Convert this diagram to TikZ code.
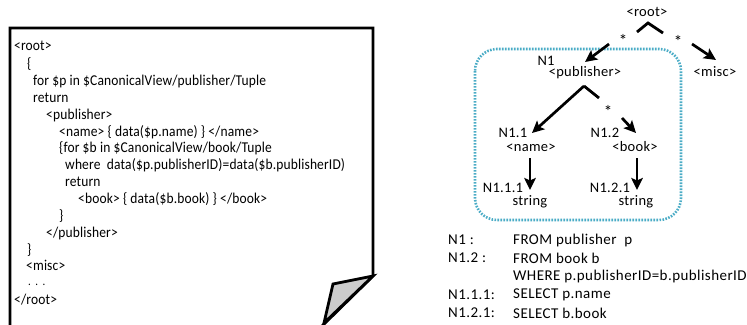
\documentclass[tikz,border=0pt]{standalone}
\usepackage{fontspec}
\setmainfont{Carlito}
\newfontfamily\codefont{Carlito}[FakeStretch=0.9,LetterSpace=1]
\newfontfamily\treefont{Carlito}[LetterSpace=2]
\newfontfamily\rulefont{Carlito}[LetterSpace=3]
\usetikzlibrary{arrows.meta}
\definecolor{aqua}{HTML}{4BACC6}
\begin{document}
\begin{tikzpicture}[x=1pt,y=-1pt,
  code/.style={anchor=west,inner sep=0pt,text height=10pt,text depth=3pt,
    font=\codefont\fontsize{15}{17}\selectfont},
  tree/.style={inner sep=0pt,font=\treefont\fontsize{14.5}{17}\selectfont},
  star/.style={inner sep=0pt,font=\treefont\fontsize{17}{17}\selectfont},
  rule/.style={anchor=west,inner sep=0pt,font=\rulefont\fontsize{15}{18}\selectfont},
  edge/.style={line width=2.7pt,-{Stealth[length=12pt,width=11.5pt,inset=2.5pt]}},
  caret/.style={line width=2.8pt},
  pageline/.style={line width=2.8pt,line join=miter}]
\useasboundingbox (0,0) rectangle (747,324);

% dog-eared page
\draw[pageline,fill=white] (10,330) -- (10,28) -- (373,28) -- (373,276) -- (318,330);
\draw[pageline,fill=black!20] (373,276) -- (333,284) -- (324,323) -- cycle;

% query text on the page
\node[code] (l1)  at (14,47)  {<root>};
\node[code] (l2)  at (27,65)  {\{};
\node[code] (l3)  at (33,82)  {for \$p in \$CanonicalView/publisher/Tuple};
\node[code] (l4)  at (33,99)  {return};
\node[code] (l5)  at (46,116) {<publisher>};
\node[code] (l6)  at (59,133) {<name> \{ data(\$p.name) \} </name>};
\node[code] (l7)  at (59,149) {\{for \$b in \$CanonicalView/book/Tuple};
\node[code] (l8)  at (65,166) {where\ \ data(\$p.publisherID)=data(\$b.publisherID)};
\node[code] (l9)  at (65,183) {return};
\node[code] (l10) at (78,200) {<book> \{ data(\$b.book) \} </book>};
\node[code] (l11) at (59,217) {\}};
\node[code] (l12) at (46,234) {</publisher>};
\node[code] (l13) at (27,251) {\}};
\node[code] (l14) at (26,267) {<misc>};
\node[code,font=\codefont\fontsize{12}{14}\selectfont,text height=3pt,text depth=0pt]
  (l15) at (28,283.5) {.\hspace{4.5pt}.\hspace{4.5pt}.};
\node[code] (l16) at (14,301) {</root>};

% fragment boundary
\draw[aqua,line width=2.6pt,dash pattern=on 1.6pt off 1.4pt,rounded corners=22pt]
  (475,49) rectangle (681,220);

% tree
\node[tree] (root) at (647,12) {<root>};
\coordinate (rL) at (637,32);
\coordinate (rA) at (648,23);
\coordinate (rR) at (663,33);
\draw[caret] (rL) -- (rA) -- (rR);
\node[star] (st1) at (623,40) {*};
\node[star] (st2) at (678,41) {*};

\node[tree] (n1)  at (546,61) {N1};
\node[tree] (pub) at (585,73) {<publisher>};
\node[tree] (misc) at (715,72) {<misc>};
\coordinate (pubS) at (609,44);
\coordinate (pubT) at (585,62);
\coordinate (miscS) at (692,44);
\coordinate (miscT) at (716,60);
\draw[edge] (pubS) -- (pubT);
\draw[edge] (miscS) -- (miscT);

\coordinate (pA) at (584,86);
\coordinate (pR) at (599,98);
\coordinate (nameT) at (532,133);
\draw[caret] (pR) -- (pA);
\draw[edge] (pA) -- (nameT);
\node[star] (st3) at (608,111) {*};
\coordinate (bookS) at (622,118);
\coordinate (bookT) at (636,133);
\draw[edge] (bookS) -- (bookT);

\node[tree] (n11)  at (513,133) {N1.1};
\node[tree] (name) at (531,148) {<name>};
\node[tree] (n12)  at (605,133) {N1.2};
\node[tree] (book) at (635,147) {<book>};

\node[tree] (n111) at (503,188) {N1.1.1};
\node[tree] (str1) at (530,202) {string};
\node[tree] (n121) at (610,188) {N1.2.1};
\node[tree] (str2) at (636,202) {string};
\coordinate (v1S) at (530,158);
\coordinate (v1T) at (530,190);
\coordinate (v2S) at (637,158);
\coordinate (v2T) at (637,190);
\draw[edge] (v1S) -- (v1T);
\draw[edge] (v2S) -- (v2T);

% fragment rules
\node[rule] (k1) at (448,240) {N1 :};
\node[rule] (k2) at (448,258) {N1.2 :};
\node[rule] (k3) at (448,295) {N1.1.1:};
\node[rule] (k4) at (448,313) {N1.2.1:};
\node[rule] (r1) at (513,240) {FROM publisher\ \ p};
\node[rule] (r2) at (513,258) {FROM book b};
\node[rule] (r3) at (513,276) {WHERE p.publisherID=b.publisherID};
\node[rule] (r4) at (513,295) {SELECT p.name};
\node[rule] (r5) at (513,313) {SELECT b.book};
\end{tikzpicture}
\end{document}
